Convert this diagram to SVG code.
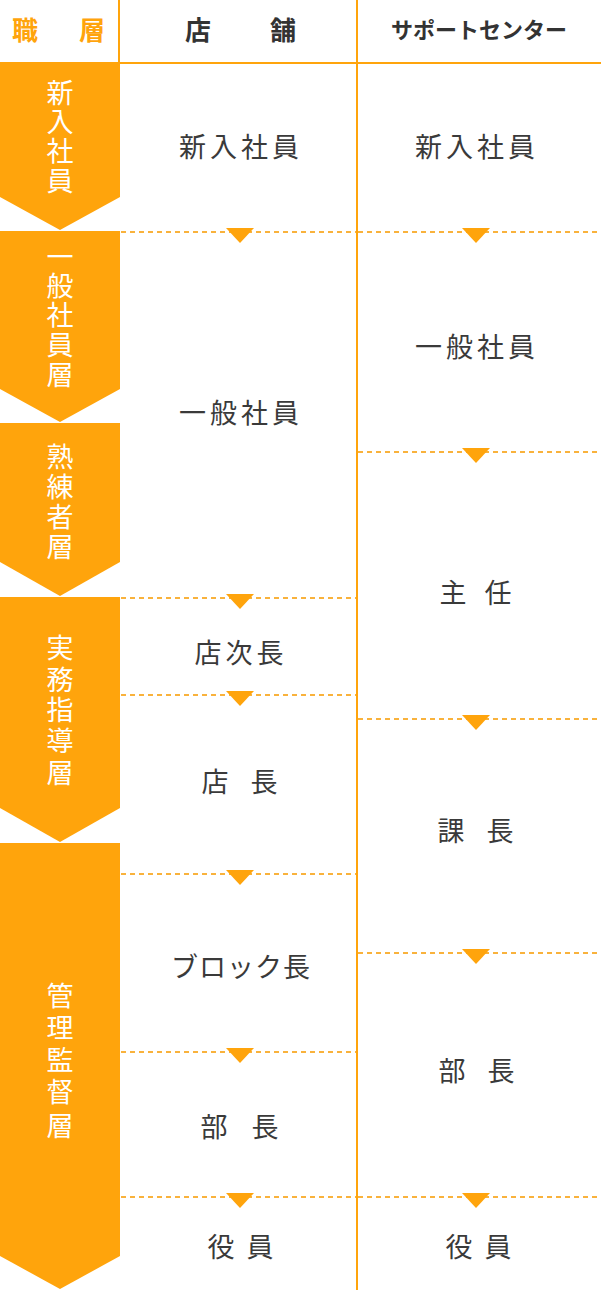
<svg xmlns="http://www.w3.org/2000/svg" width="601" height="1293" viewBox="0 0 601 1293">
<style>
.chev{fill:#FFA40C}
.ct{font-family:"Noto Sans CJK JP","Noto Sans",sans-serif;font-size:27px;font-weight:400;fill:#ffffff;text-anchor:middle}
.bt{font-family:"Noto Sans CJK JP","Noto Sans",sans-serif;font-size:27px;font-weight:400;fill:#3a3a3a;text-anchor:middle;letter-spacing:4px}
.sp{letter-spacing:0}
.hd{font-family:"Noto Sans CJK JP","Noto Sans",sans-serif;font-weight:bold;text-anchor:middle}
.dash{stroke:#F9B23C;stroke-width:2;stroke-dasharray:5 4;fill:none}
.tri{fill:#FFA40C}
.vl{stroke:#FFA40C;stroke-width:2;fill:none}
</style>
<rect width="601" height="1293" fill="#ffffff"/>
<g id="header">
  <line class="vl" x1="119" y1="0" x2="119" y2="63"/>
  <line class="vl" x1="119" y1="63" x2="601" y2="63"/>
  <text class="hd" x="25 58 92" y="40" font-size="26" fill="#FFA40C">職 層</text>
  <text class="hd" x="198 240 283" y="40" font-size="26" fill="#333333">店 舗</text>
  <text class="hd" x="479" y="38" font-size="22" fill="#333333">サポートセンター</text>
</g>
<g id="connectors">
  <line class="vl" x1="357" y1="0" x2="357" y2="1290"/>
  <line class="dash" x1="121" y1="232" x2="356" y2="232"/>
  <line class="dash" x1="121" y1="598" x2="356" y2="598"/>
  <line class="dash" x1="121" y1="695" x2="356" y2="695"/>
  <line class="dash" x1="121" y1="874" x2="356" y2="874"/>
  <line class="dash" x1="121" y1="1052" x2="356" y2="1052"/>
  <line class="dash" x1="121" y1="1197" x2="356" y2="1197"/>
  <line class="dash" x1="358" y1="232" x2="601" y2="232"/>
  <line class="dash" x1="358" y1="452" x2="601" y2="452"/>
  <line class="dash" x1="358" y1="719" x2="601" y2="719"/>
  <line class="dash" x1="358" y1="953" x2="601" y2="953"/>
  <line class="dash" x1="358" y1="1197" x2="601" y2="1197"/>
  <polygon class="tri" points="226,228 254,228 240,243"/>
  <polygon class="tri" points="226,594 254,594 240,609"/>
  <polygon class="tri" points="226,691 254,691 240,706"/>
  <polygon class="tri" points="226,870 254,870 240,885"/>
  <polygon class="tri" points="226,1048 254,1048 240,1063"/>
  <polygon class="tri" points="226,1193 254,1193 240,1208"/>
  <polygon class="tri" points="462,228 490,228 476,243"/>
  <polygon class="tri" points="462,448 490,448 476,463"/>
  <polygon class="tri" points="462,715 490,715 476,730"/>
  <polygon class="tri" points="462,949 490,949 476,964"/>
  <polygon class="tri" points="462,1193 490,1193 476,1208"/>
</g>
<g id="chev-shinnyu">
  <polygon class="chev" points="0,62 120,62 120,197 60,230 0,197"/>
  <text class="ct" x="60 60 60 60" y="103 132 161 191">新入社員</text>
</g>
<g id="chev-ippan">
  <polygon class="chev" points="0,231 120,231 120,389 60,422 0,389"/>
  <text class="ct" x="60 60 60 60 60" y="267 296 325 355 385">一般社員層</text>
</g>
<g id="chev-jukuren">
  <polygon class="chev" points="0,423 120,423 120,562 60,596 0,562"/>
  <text class="ct" x="60 60 60 60" y="467 497 527 557">熟練者層</text>
</g>
<g id="chev-jitsumu">
  <polygon class="chev" points="0,597 120,597 120,808 60,842 0,808"/>
  <text class="ct" x="60 60 60 60 60" y="658 690 720 751 783">実務指導層</text>
</g>
<g id="chev-kanri">
  <polygon class="chev" points="0,843 120,843 120,1256 60,1289 0,1256"/>
  <text class="ct" x="60 60 60 60 60" y="1006 1038 1070 1102 1136">管理監督層</text>
</g>
<g id="store-shinnyu"><text class="bt" x="241" y="157">新入社員</text></g>
<g id="store-ippan"><text class="bt" x="241" y="423">一般社員</text></g>
<g id="store-jicho"><text class="bt" x="241" y="663">店次長</text></g>
<g id="store-tencho"><text class="bt sp" x="215 240 264" y="792">店 長</text></g>
<g id="store-block"><text class="bt" x="241" y="977" style="letter-spacing:1px">ブロック長</text></g>
<g id="store-bucho"><text class="bt sp" x="214 240 265" y="1137">部 長</text></g>
<g id="store-yakuin"><text class="bt sp" x="221 240 260" y="1257">役 員</text></g>
<g id="sc-shinnyu"><text class="bt" x="477" y="157">新入社員</text></g>
<g id="sc-ippan"><text class="bt" x="477" y="357">一般社員</text></g>
<g id="sc-shunin"><text class="bt sp" x="453 476 498" y="603">主 任</text></g>
<g id="sc-kacho"><text class="bt sp" x="451 476 500" y="841">課 長</text></g>
<g id="sc-bucho"><text class="bt sp" x="452 476 501" y="1081">部 長</text></g>
<g id="sc-yakuin"><text class="bt sp" x="459 478 498" y="1257">役 員</text></g>
</svg>
